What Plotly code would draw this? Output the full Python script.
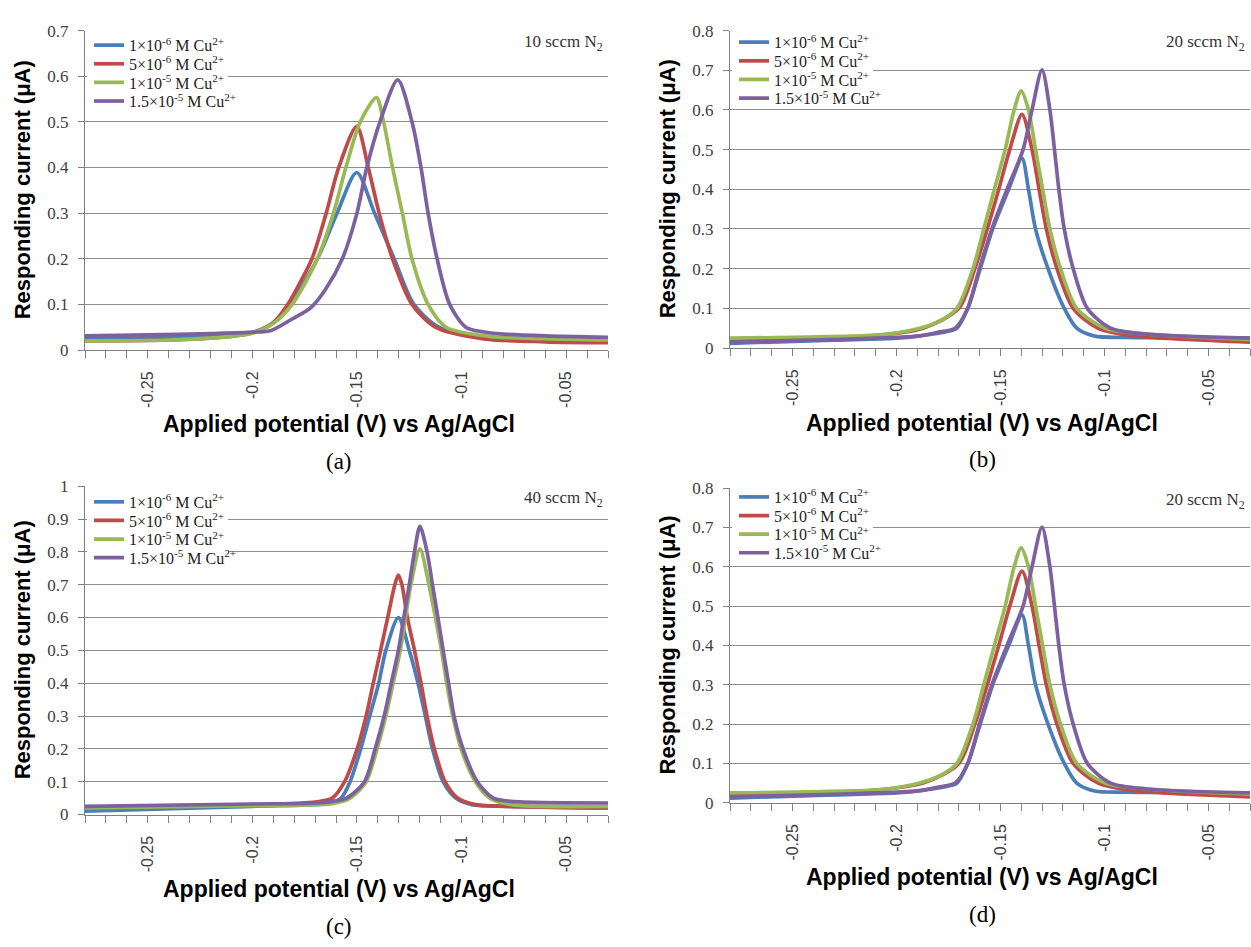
import plotly.graph_objects as go

# ---------------- DATA ----------------
series_names = [
    "1×10<sup>-6</sup> M Cu<sup>2+</sup>",
    "5×10<sup>-6</sup> M Cu<sup>2+</sup>",
    "1×10<sup>-5</sup> M Cu<sup>2+</sup>",
    "1.5×10<sup>-5</sup> M Cu<sup>2+</sup>",
]
panel_notes = ["10 sccm N<sub>2</sub>", "20 sccm N<sub>2</sub>", "40 sccm N<sub>2</sub>", "20 sccm N<sub>2</sub>"]
panel_tags = ["(a)", "(b)", "(c)", "(d)"]
x_tick_vals = [-0.28, -0.27, -0.26, -0.25, -0.24, -0.23, -0.22, -0.21, -0.20, -0.19, -0.18, -0.17, -0.16,
               -0.15, -0.14, -0.13, -0.12, -0.11, -0.10, -0.09, -0.08, -0.07, -0.06, -0.05, -0.04, -0.03]
x_tick_text = ["", "", "", "-0.25", "", "", "", "", "-0.2", "", "", "", "",
               "-0.15", "", "", "", "", "-0.1", "", "", "", "", "-0.05", "", ""]

# panel (a) 10 sccm
a_blue_x = [-0.28, -0.24, -0.21, -0.20, -0.19, -0.182, -0.1689, -0.1595, -0.1501, -0.1416, -0.1322, -0.1228, -0.1108, -0.0869, -0.06, -0.03]
a_blue_y = [0.025, 0.027, 0.032, 0.038, 0.06, 0.1, 0.2, 0.3, 0.389, 0.3, 0.2, 0.1, 0.05, 0.025, 0.021, 0.02]
a_red_x = [-0.28, -0.24, -0.21, -0.20, -0.19, -0.183, -0.1775, -0.1715, -0.1647, -0.1587, -0.1501, -0.1446, -0.1394, -0.133, -0.1237, -0.1125, -0.0903, -0.06, -0.03]
a_red_y = [0.02, 0.022, 0.03, 0.038, 0.06, 0.1, 0.145, 0.2, 0.3, 0.4, 0.49, 0.4, 0.3, 0.2, 0.1, 0.05, 0.025, 0.018, 0.016]
a_green_x = [-0.28, -0.24, -0.21, -0.20, -0.19, -0.181, -0.1689, -0.1612, -0.1553, -0.1484, -0.1407, -0.1373, -0.133, -0.1283, -0.1237, -0.116, -0.1074, -0.0869, -0.06, -0.03]
a_green_y = [0.02, 0.022, 0.03, 0.037, 0.058, 0.1, 0.2, 0.3, 0.4, 0.5, 0.553, 0.5, 0.4, 0.3, 0.2, 0.1, 0.05, 0.03, 0.025, 0.022]
a_purple_x = [-0.28, -0.25, -0.22, -0.20, -0.191, -0.181, -0.172, -0.165, -0.157, -0.150, -0.1453, -0.139, -0.1305, -0.1237, -0.1194, -0.116, -0.1117, -0.1057, -0.098, -0.09, -0.08, -0.06, -0.03]
a_purple_y = [0.031, 0.033, 0.036, 0.039, 0.043, 0.068, 0.093, 0.133, 0.2, 0.3, 0.4, 0.5, 0.592, 0.5, 0.4, 0.3, 0.2, 0.1, 0.05, 0.04, 0.035, 0.031, 0.028]

# panel (b) 20 sccm (same data shown again in (d))
b_blue_x = [-0.28, -0.23, -0.20, -0.19, -0.173, -0.1709, -0.1657, -0.1597, -0.1537, -0.146, -0.1396, -0.1365, -0.1331, -0.1271, -0.1193, -0.1133, -0.1047, -0.0896, -0.06, -0.03]
b_blue_y = [0.012, 0.02, 0.025, 0.03, 0.045, 0.05, 0.1, 0.2, 0.3, 0.4, 0.478, 0.4, 0.3, 0.2, 0.1, 0.05, 0.03, 0.027, 0.026, 0.025]
b_red_x = [-0.28, -0.214, -0.1872, -0.17, -0.1623, -0.1563, -0.1508, -0.1455, -0.1396, -0.1348, -0.1314, -0.1279, -0.1228, -0.115, -0.103, -0.0841, -0.06, -0.03]
b_red_y = [0.02, 0.03, 0.05, 0.1, 0.2, 0.3, 0.4, 0.5, 0.589, 0.5, 0.4, 0.3, 0.2, 0.1, 0.05, 0.03, 0.022, 0.015]
b_green_x = [-0.28, -0.2216, -0.2044, -0.1889, -0.1786, -0.1709, -0.1632, -0.158, -0.1529, -0.1477, -0.1434, -0.14, -0.1365, -0.1331, -0.1297, -0.1262, -0.1211, -0.1133, -0.0996, -0.079, -0.03]
b_green_y = [0.025, 0.03, 0.035, 0.05, 0.07, 0.1, 0.2, 0.3, 0.4, 0.5, 0.6, 0.648, 0.6, 0.5, 0.4, 0.3, 0.2, 0.1, 0.05, 0.035, 0.022]
b_purple_x = [-0.28, -0.24, -0.21, -0.1896, -0.1797, -0.1717, -0.1657, -0.1601, -0.1541, -0.1468, -0.1391, -0.1348, -0.13, -0.1262, -0.124, -0.1219, -0.1193, -0.115, -0.1082, -0.097, -0.0797, -0.03]
b_purple_y = [0.015, 0.02, 0.025, 0.03, 0.04, 0.05, 0.1, 0.2, 0.3, 0.4, 0.5, 0.6, 0.701, 0.6, 0.5, 0.4, 0.3, 0.2, 0.1, 0.05, 0.035, 0.025]

# panel (c) 40 sccm
c_blue_x = [-0.28, -0.2, -0.17, -0.162, -0.1576, -0.1533, -0.1482, -0.1439, -0.1396, -0.1362, -0.1302, -0.125, -0.1208, -0.1173, -0.1139, -0.1088, -0.1028, -0.0951, -0.078, -0.03]
c_blue_y = [0.01, 0.025, 0.03, 0.035, 0.05, 0.1, 0.2, 0.3, 0.4, 0.5, 0.60, 0.5, 0.4, 0.3, 0.2, 0.1, 0.05, 0.03, 0.025, 0.02]
c_red_x = [-0.28, -0.2, -0.17, -0.1618, -0.1559, -0.1499, -0.1456, -0.1422, -0.1387, -0.1353, -0.1319, -0.1302, -0.1285, -0.1259, -0.1225, -0.1194, -0.1165, -0.113, -0.1079, -0.1019, -0.0934, -0.078, -0.03]
c_red_y = [0.02, 0.03, 0.038, 0.05, 0.1, 0.2, 0.3, 0.4, 0.5, 0.6, 0.7, 0.729, 0.7, 0.6, 0.5, 0.4, 0.3, 0.2, 0.1, 0.05, 0.03, 0.025, 0.02]
c_green_x = [-0.28, -0.2, -0.17, -0.1618, -0.1533, -0.1456, -0.1404, -0.1362, -0.1327, -0.1293, -0.1268, -0.1242, -0.1199, -0.1156, -0.1125, -0.1096, -0.1071, -0.1042, -0.1002, -0.0934, -0.0865, -0.0762, -0.03]
c_green_y = [0.02, 0.027, 0.03, 0.033, 0.05, 0.1, 0.2, 0.3, 0.4, 0.5, 0.6, 0.7, 0.809, 0.7, 0.6, 0.5, 0.4, 0.3, 0.2, 0.1, 0.05, 0.03, 0.025]
c_purple_x = [-0.28, -0.2, -0.17, -0.1618, -0.155, -0.1464, -0.1413, -0.137, -0.1336, -0.1302, -0.1276, -0.125, -0.1225, -0.1199, -0.1165, -0.1139, -0.1113, -0.1088, -0.1062, -0.1036, -0.0993, -0.0925, -0.0848, -0.0762, -0.03]
c_purple_y = [0.025, 0.032, 0.035, 0.04, 0.05, 0.1, 0.2, 0.3, 0.4, 0.5, 0.6, 0.7, 0.8, 0.878, 0.8, 0.7, 0.6, 0.5, 0.4, 0.3, 0.2, 0.1, 0.05, 0.04, 0.035]

panel_series = [
    [(a_blue_x, a_blue_y), (a_red_x, a_red_y), (a_green_x, a_green_y), (a_purple_x, a_purple_y)],
    [(b_blue_x, b_blue_y), (b_red_x, b_red_y), (b_green_x, b_green_y), (b_purple_x, b_purple_y)],
    [(c_blue_x, c_blue_y), (c_red_x, c_red_y), (c_green_x, c_green_y), (c_purple_x, c_purple_y)],
    [(b_blue_x, b_blue_y), (b_red_x, b_red_y), (b_green_x, b_green_y), (b_purple_x, b_purple_y)],
]
y_max = [0.7, 0.8, 1.0, 0.8]

# ---------------- STYLE / LAYOUT ----------------
colors = ["#4A7EBB", "#BE4B48", "#98B954", "#7D60A0"]
W, H = 1251, 947
# pixel boxes: left, right, top, bottom
boxes = [(85, 608, 22, 348), (730, 1250, 22, 346), (85, 608, 487, 822), (730, 1250, 489, 810)]
legend_first_row = [37, 34, 503, 498]
row_step = 19
grid_col = "#8C8C8C"
axis_col = "#808080"
tick_font = dict(family="Liberation Sans, Arial", size=16, color="#404040")
ytick_font = dict(family="Liberation Serif, serif", size=17, color="#404040")

fig = go.Figure()
layout = dict(width=W, height=H, margin=dict(l=0, r=0, t=0, b=0),
              paper_bgcolor="white", plot_bgcolor="white", showlegend=True)

shapes = []
leg_idx = 0
for p in range(4):
    l, r, t, b = boxes[p]
    xa = "xaxis" if p == 0 else f"xaxis{p+1}"
    ya = "yaxis" if p == 0 else f"yaxis{p+1}"
    xref = "x" if p == 0 else f"x{p+1}"
    yref = "y" if p == 0 else f"y{p+1}"
    # white backdrop behind the legend block (covers gridlines like the original)
    r0 = legend_first_row[p]
    shapes.append(dict(type="rect", xref="paper", yref="paper", layer="above",
                       x0=(l + 2) / W, x1=(l + 143) / W,
                       y0=1 - (r0 + 3 * row_step + 10) / H, y1=1 - (r0 - 10) / H,
                       fillcolor="white", line=dict(width=0)))
    for s in range(4):
        leg_idx += 1
        lg = "legend" if leg_idx == 1 else f"legend{leg_idx}"
        xs, ys = panel_series[p][s]
        fig.add_trace(go.Scatter(x=xs, y=ys, mode="lines", name=series_names[s],
                                 line=dict(color=colors[s], width=3.7, shape="spline", smoothing=0.8),
                                 xaxis=xref, yaxis=yref, legend=lg, showlegend=True))
        layout[lg] = dict(x=(l + 4) / W, y=1 - (r0 + s * row_step) / H,
                          xanchor="left", yanchor="middle",
                          bgcolor="rgba(255,255,255,0)", borderwidth=0, tracegroupgap=0,
                          font=dict(family="Liberation Serif, serif", size=16, color="#222222"),
                          itemwidth=30)
    layout[xa] = dict(domain=[l / W, r / W], anchor=yref, range=[-0.28, -0.03],
                      tickmode="array", tickvals=x_tick_vals, ticktext=x_tick_text,
                      tickangle=-90, tickfont=tick_font, ticks="outside", ticklen=7, tickwidth=1,
                      tickcolor=axis_col, showline=True, linecolor=axis_col, linewidth=1,
                      showgrid=False, zeroline=False, ticklabelstandoff=7)
    layout[ya] = dict(domain=[1 - b / H, 1 - t / H], anchor=xref, range=[0, y_max[p]],
                      dtick=0.1, tick0=0, tickfont=ytick_font, ticks="outside", ticklen=6, tickwidth=1,
                      tickcolor=axis_col, showline=True, linecolor=axis_col, linewidth=1,
                      showgrid=True, gridcolor=grid_col, gridwidth=1, zeroline=False,
                      ticklabelstandoff=6)

layout["shapes"] = shapes
fig.update_layout(**layout)

anns = []
for p in range(4):
    l, r, t, b = boxes[p]
    # panel note top-right
    anns.append(dict(text=panel_notes[p], xref="paper", yref="paper", x=(r - 3) / W, y=1 - (t + 13) / H,
                     xanchor="right", yanchor="middle", showarrow=False,
                     font=dict(family="Liberation Serif, serif", size=17, color="#333333")))
    # x title
    anns.append(dict(text="<b>Applied potential (V) vs Ag/AgCl</b>", xref="paper", yref="paper",
                     x=(l + r) / 2 / W - 0.006, y=1 - (b + 76) / H, xanchor="center", yanchor="middle",
                     showarrow=False, font=dict(family="Liberation Sans, Arial", size=23, color="black")))
    # y title
    anns.append(dict(text="<b>Responding current (μA)</b>", xref="paper", yref="paper",
                     x=(l - 63) / W, y=1 - (t + b) / 2 / H, xanchor="center", yanchor="middle",
                     textangle=-90, showarrow=False,
                     font=dict(family="Liberation Sans, Arial", size=22, color="black")))
    # panel tag
    anns.append(dict(text=panel_tags[p], xref="paper", yref="paper",
                     x=(l + r) / 2 / W - 0.006, y=1 - (b + 114) / H, xanchor="center", yanchor="middle",
                     showarrow=False, font=dict(family="Liberation Serif, serif", size=23, color="black")))
fig.update_layout(annotations=anns)

fig.write_html("out.html")
